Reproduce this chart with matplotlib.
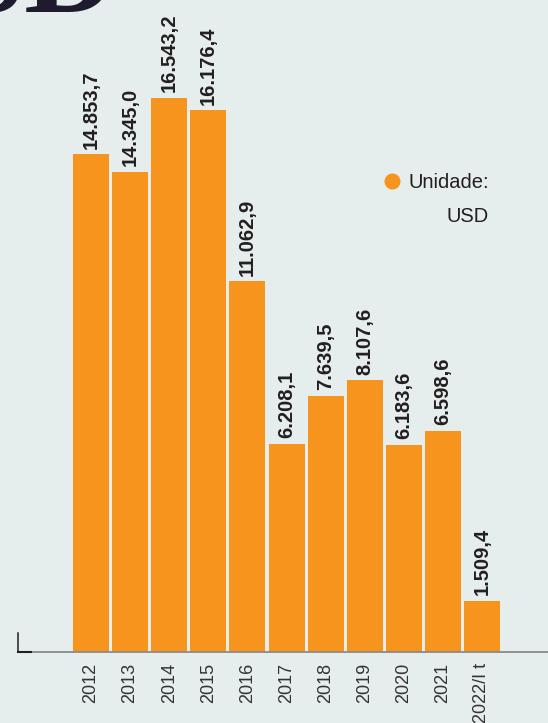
import matplotlib
matplotlib.use("Agg")
import matplotlib.pyplot as plt
from matplotlib import font_manager
from matplotlib.lines import Line2D

# ---- data ----
years = ["2012", "2013", "2014", "2015", "2016", "2017", "2018", "2019", "2020", "2021", "2022/I t"]
values = [14853.7, 14345.0, 16543.2, 16176.4, 11062.9, 6208.1, 7639.5, 8107.6, 6183.6, 6598.6, 1509.4]
unit_lines = ["Unidade:", "USD"]
title_tail = "SD"

BG = "#e5eeec"
ORANGE = "#f7941d"
DARK = "#231f20"


def pick(fam, fallback):
    try:
        font_manager.findfont(font_manager.FontProperties(family=fam), fallback_to_default=False)
        return fam
    except Exception:
        return fallback


SANS = pick("Liberation Sans", "DejaVu Sans")
SERIF = pick("Liberation Serif", "DejaVu Serif")

W, H = 548, 723
DPI = 100
fig = plt.figure(figsize=(W / DPI, H / DPI), dpi=DPI, facecolor=BG)

# axes placement in pixels
ax_left_px, ax_right_px = 18, 548
base_px = 651.5  # from top
ax = fig.add_axes([ax_left_px / W, (H - base_px) / H, (ax_right_px - ax_left_px) / W, base_px / H])
ax.set_facecolor(BG)

pitch = 39.1
c0 = 91.0
x = list(range(len(values)))
ax.set_xlim((ax_left_px - c0) / pitch, (ax_right_px - c0) / pitch)
units_per_px = 1 / 0.03346
ax.set_ylim(0, base_px * units_per_px)

ax.bar(x, values, width=36 / pitch, color=ORANGE, zorder=2)


def fmt(v):
    s = f"{v:,.1f}"
    return s.replace(",", "X").replace(".", ",").replace("X", ".")


for xi, v in zip(x, values):
    ax.annotate(fmt(v), (xi, v), xytext=(0, 4), textcoords="offset points",
                rotation=90, ha="center", va="bottom", fontsize=14.5,
                fontweight="bold", family=SANS, color=DARK)

ax.set_xticks(x)
ax.set_xticklabels(years, rotation=90, fontsize=13, family=SANS, color="#333333",
                   va="top", ha="center")
ax.tick_params(axis="x", length=0, pad=8)
ax.set_yticks([])
for s in ["top", "right", "left"]:
    ax.spines[s].set_visible(False)
ax.spines["bottom"].set_color("#8a8a8a")
ax.spines["bottom"].set_linewidth(1.3)

# small dark corner mark at the left end of the axis
ax.add_line(Line2D([0, 0], [0, 19 / base_px], transform=ax.transAxes, color=DARK,
                   lw=1.1, clip_on=False, zorder=3))
ax.add_line(Line2D([0, 13 / (ax_right_px - ax_left_px)], [0, 0], transform=ax.transAxes,
                   color=DARK, lw=1.5, clip_on=False, zorder=3))

# unit legend
fig.add_artist(Line2D([392 / W], [1 - 181 / H], marker="o", markersize=10.5,
                      color=ORANGE, linestyle="none", transform=fig.transFigure))
fig.text(489 / W, 1 - 188 / H, unit_lines[0], ha="right", va="baseline", fontsize=14.5,
         family=SANS, color=DARK)
fig.text(489 / W, 1 - 222 / H, unit_lines[1], ha="right", va="baseline", fontsize=14.5,
         family=SANS, color=DARK)

# tail of a large title cut off at the top
fig.text(117 / W, 1 - 12 / H, title_tail, ha="right", va="baseline", fontsize=92,
         fontweight="bold", family=SERIF, color="#1e1b2e")

fig.savefig("out.png", dpi=DPI, facecolor=BG)
